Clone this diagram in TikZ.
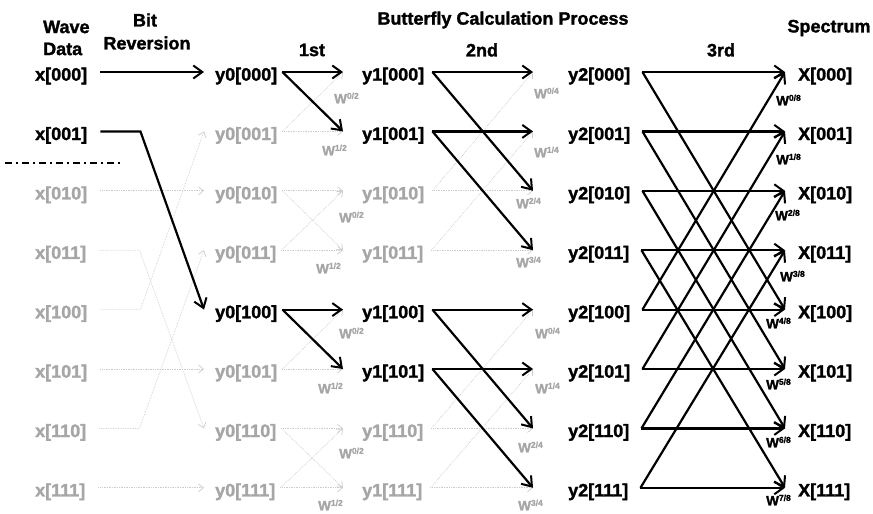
\documentclass[tikz,border=0pt]{standalone}
\usepackage{fontspec}
\setmainfont{Liberation Sans}[BoldFeatures={FakeBold=1.6}]
\usetikzlibrary{arrows.meta}
\newcommand\Wlab[1]{{\fontsize{13.5}{13.5}\selectfont W}\raisebox{4.5pt}{\fontsize{8.5}{8.5}\selectfont #1}}
\begin{document}
\begin{tikzpicture}[x=1pt,y=-1pt,
  lbl/.style={font=\fontsize{18}{18}\selectfont\bfseries, inner sep=0pt, anchor=west},
  blk/.style={lbl,text=black},
  gry/.style={lbl,text=black!35},
  hdr/.style={font=\fontsize{18}{18}\selectfont\bfseries, inner sep=0pt},
  arr/.style={line width=2.2pt, -{Straight Barb[length=9pt,width=13pt,line width=2pt]}, line join=miter},
  farr/.style={line width=0.7pt, black!20, densely dotted, -{Straight Barb[length=5pt,width=8pt,line width=0.7pt]}},
  wl/.style={inner sep=0pt, anchor=west, font=\bfseries},
  wg/.style={wl, text=black!35},
]
\useasboundingbox (0,0) rectangle (873,514);

% headers
\node[hdr,anchor=west] (hwave) at (43,27) {Wave};
\node[hdr,anchor=west] (hdata) at (43,49) {Data};
\node[hdr] (hbit) at (145,20) {Bit};
\node[hdr] (hrev) at (147,43) {Reversion};
\node[hdr] (hbut) at (503,20) {Butterfly Calculation Process};
\node[hdr] (h1) at (312,50) {1st};
\node[hdr] (h2) at (482,50) {2nd};
\node[hdr] (h3) at (721,50) {3rd};
\node[hdr] (hspec) at (829,28) {Spectrum};

% dash-dot separator
\coordinate (sepa) at (5,163);
\coordinate (sepb) at (122,163);
\draw[line width=1.6pt, dash pattern=on 7pt off 4pt on 2pt off 4pt] (sepa) -- (sepb);

% nodes
\foreach \i/\b/\r in {0/000/76,1/001/135.4,2/010/194.8,3/011/254.2,4/100/313.6,5/101/373,6/110/432.4,7/111/491.8}{
  \node[blk] (s\i) at (568,\r) {y2[\b]};
  \node[blk] (o\i) at (798,\r) {X[\b]};
}
\foreach \i/\b/\r/\c in {0/000/76/blk,1/001/135.4/blk,2/010/194.8/gry,3/011/254.2/gry,4/100/313.6/gry,5/101/373/gry,6/110/432.4/gry,7/111/491.8/gry}{
  \node[\c] (x\i) at (35,\r) {x[\b]};
}
\foreach \i/\b/\r/\c in {0/000/76/blk,1/001/135.4/gry,2/010/194.8/gry,3/011/254.2/gry,4/100/313.6/blk,5/101/373/gry,6/110/432.4/gry,7/111/491.8/gry}{
  \node[\c] (p\i) at (215,\r) {y0[\b]};
}
\foreach \i/\b/\r/\c in {0/000/76/blk,1/001/135.4/blk,2/010/194.8/gry,3/011/254.2/gry,4/100/313.6/blk,5/101/373/blk,6/110/432.4/gry,7/111/491.8/gry}{
  \node[\c] (q\i) at (362,\r) {y1[\b]};
}

% faint connectors
\draw[farr] ([xshift=13pt,yshift=4pt]x2.east) -- ([xshift=-11pt,yshift=4pt]p2.west);
\draw[farr] ([xshift=13pt,yshift=4pt]x5.east) -- ([xshift=-11pt,yshift=4pt]p5.west);
\draw[farr] ([xshift=13pt,yshift=4pt]x7.east) -- ([xshift=-11pt,yshift=4pt]p7.west);
\draw[farr] ([xshift=13pt,yshift=4pt]x3.east) -- ++(40,0) -- ([xshift=-11pt,yshift=4pt]p6.west);
\draw[farr] ([xshift=13pt,yshift=4pt]x4.east) -- ++(40,0) -- ([xshift=-11pt,yshift=4pt]p1.west);
\draw[farr] ([xshift=13pt,yshift=4pt]x6.east) -- ++(40,0) -- ([xshift=-11pt,yshift=4pt]p3.west);
\foreach \a/\t in {1/0,1/1,2/2,2/3,3/2,3/3,5/4,5/5,6/6,6/7,7/6,7/7}{
  \draw[farr] ([xshift=5pt,yshift=4pt]p\a.east) -- ([xshift=-19pt,yshift=4pt]q\t.west);
}
\foreach \a/\t in {2/0,2/2,3/1,3/3,6/4,6/6,7/5,7/7}{
  \draw[farr] ([xshift=8pt,yshift=4pt]q\a.east) -- ([xshift=-35pt,yshift=4pt]s\t.west);
}

% bit reversal (black)
\draw[arr] ([xshift=13pt,yshift=4pt]x0.east) -- ([xshift=-11pt,yshift=4pt]p0.west);
\draw[arr] ([xshift=13pt,yshift=4pt]x1.east) -- ++(40,0) -- ([xshift=-11pt,yshift=4pt]p4.west);

% stage 1
\foreach \a/\t in {0/0,0/1,4/4,4/5}{
  \draw[arr] ([xshift=5pt,yshift=4pt]p\a.east) -- ([xshift=-19pt,yshift=4pt]q\t.west);
}
% stage 2
\foreach \a/\t in {0/0,0/2,1/1,1/3,4/4,4/6,5/5,5/7}{
  \draw[arr] ([xshift=8pt,yshift=4pt]q\a.east) -- ([xshift=-35pt,yshift=4pt]s\t.west);
}
% stage 3
\foreach \a/\t in {0/0,0/4,1/1,1/5,2/2,2/6,3/3,3/7,4/4,4/0,5/5,5/1,6/6,6/2,7/7,7/3}{
  \draw[arr] ([xshift=12pt,yshift=4pt]s\a.east) -- ([xshift=-13pt,yshift=4pt]o\t.west);
}

% twiddle labels stage 3
\foreach \k/\px/\py in {0/776/100,1/776/159,2/775/215,3/780/276,4/766/323,5/766/384,6/766/442,7/766/500}{
  \node[wl] (w3\k) at (\px,\py) {\Wlab{\k/8}};
}
% faint twiddle labels stage 1 and 2
\foreach \k/\n/\px/\py in {0/0/334/98,1/1/322/150,2/0/339/217,3/1/316/268,4/0/339/333,5/1/318/388,6/0/339/453,7/1/318/505}{
  \node[wg] (w1\k) at (\px,\py) {\Wlab{\n/2}};
}
\foreach \k/\n/\px/\py in {0/0/534/93,1/1/534/152,2/2/516/203,3/3/516/262,4/0/535/333,5/1/535/388,6/2/518/447,7/3/518/505}{
  \node[wg] (w2\k) at (\px,\py) {\Wlab{\n/4}};
}
\end{tikzpicture}
\end{document}
